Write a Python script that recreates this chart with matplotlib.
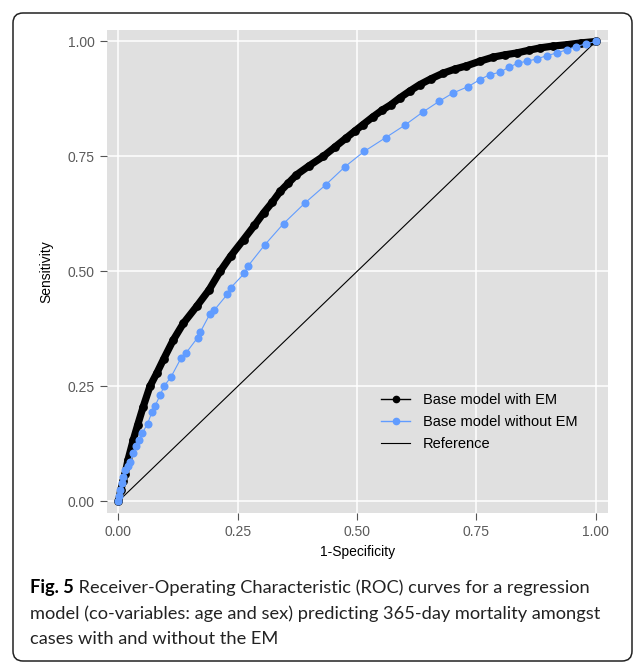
import matplotlib
matplotlib.use("Agg")
import matplotlib.pyplot as plt
from matplotlib.lines import Line2D
from matplotlib.patches import FancyBboxPatch
from matplotlib.transforms import IdentityTransform

# ---- data ----
with_em_x = [0, 0.005, 0.010, 0.014, 0.020, 0.031, 0.040, 0.052, 0.066, 0.080, 0.095,
             0.115, 0.136, 0.164, 0.190, 0.213, 0.235, 0.262, 0.285, 0.304, 0.322,
             0.339, 0.356, 0.373, 0.400, 0.429, 0.453, 0.477, 0.495, 0.512, 0.533,
             0.553, 0.570, 0.589, 0.610, 0.631, 0.655, 0.680, 0.705, 0.729, 0.757,
             0.785, 0.810, 0.834, 0.860, 0.883, 0.910, 0.939, 0.970, 1.0]
with_em_y = [0, 0.025, 0.045, 0.060, 0.090, 0.133, 0.165, 0.206, 0.250, 0.278, 0.310,
             0.351, 0.387, 0.424, 0.460, 0.500, 0.533, 0.569, 0.600, 0.627, 0.650,
             0.674, 0.692, 0.710, 0.730, 0.750, 0.770, 0.790, 0.805, 0.819, 0.836,
             0.851, 0.862, 0.877, 0.892, 0.906, 0.919, 0.931, 0.940, 0.947, 0.957,
             0.966, 0.971, 0.975, 0.981, 0.986, 0.990, 0.993, 0.997, 1.0]

without_em_x = [0, 0.002, 0.004, 0.007, 0.010, 0.014, 0.019, 0.024, 0.031, 0.037, 0.042,
                0.050, 0.061, 0.070, 0.077, 0.087, 0.096, 0.110, 0.131, 0.142, 0.166,
                0.171, 0.192, 0.201, 0.228, 0.235, 0.264, 0.271, 0.306, 0.346, 0.391,
                0.434, 0.475, 0.515, 0.560, 0.600, 0.637, 0.672, 0.701, 0.733, 0.757,
                0.778, 0.799, 0.818, 0.837, 0.855, 0.876, 0.897, 0.918, 0.939, 0.959,
                0.980, 1.0]
without_em_y = [0, 0.012, 0.025, 0.039, 0.052, 0.068, 0.077, 0.086, 0.104, 0.120, 0.133,
                0.148, 0.169, 0.193, 0.208, 0.230, 0.251, 0.270, 0.311, 0.323, 0.356,
                0.367, 0.408, 0.416, 0.450, 0.464, 0.496, 0.511, 0.557, 0.604, 0.649,
                0.688, 0.728, 0.761, 0.791, 0.818, 0.846, 0.870, 0.888, 0.902, 0.917,
                0.928, 0.933, 0.944, 0.953, 0.957, 0.962, 0.969, 0.975, 0.982, 0.989,
                0.995, 1.0]

reference_x = [0, 1]
reference_y = [0, 1]

tick_values = [0.00, 0.25, 0.50, 0.75, 1.00]
tick_labels = ["0.00", "0.25", "0.50", "0.75", "1.00"]
series_labels = ["Base model with EM", "Base model without EM", "Reference"]
x_title = "1-Specificity"
y_title = "Sensitivity"
caption_bold = "Fig. 5"
caption_lines = [" Receiver-Operating Characteristic (ROC) curves for a regression",
                 "model (co-variables: age and sex) predicting 365-day mortality amongst",
                 "cases with and without the EM"]

# ---- style ----
BLUE = "#619CFF"
PANEL = "#E0E0E0"
plt.rcParams['font.family'] = ['Liberation Sans', 'DejaVu Sans']

W, H = 634, 662
fig = plt.figure(figsize=(W / 100, H / 100), dpi=100)

ax = fig.add_axes([107 / W, 1 - 512.7 / H, (607.7 - 107) / W, (512.7 - 30) / H])
ax.set_facecolor(PANEL)
for s in ax.spines.values():
    s.set_visible(False)
ax.set_xlim(-0.024, 1.025)
ax.set_ylim(-0.025, 1.025)
ax.set_xticks(tick_values)
ax.set_xticklabels(tick_labels)
ax.set_yticks(tick_values)
ax.set_yticklabels(tick_labels)
ax.grid(True, color="white", lw=1.1)
ax.set_axisbelow(True)
ax.tick_params(axis="both", length=5, width=0.8, color="#555555",
               labelcolor="#5a5a5a", labelsize=10, pad=4)
ax.set_xlabel(x_title, fontsize=10, color="black", labelpad=4)
ax.set_ylabel(y_title, fontsize=10, color="black", labelpad=10)

ax.plot(reference_x, reference_y, color="black", lw=0.8, zorder=2)
ax.plot(with_em_x, with_em_y, color="black", lw=5.2, solid_joinstyle="round",
        solid_capstyle="round", zorder=3)
ax.plot(with_em_x, with_em_y, color="black", lw=0, marker="o", ms=5.3, zorder=3)
ax.plot(without_em_x, without_em_y, color=BLUE, lw=0.8, marker="o", ms=5.8,
        markeredgewidth=0, zorder=4)

handles = [
    Line2D([], [], color="black", lw=1.0, marker="o", ms=4.5),
    Line2D([], [], color=BLUE, lw=1.0, marker="o", ms=4.5),
    Line2D([], [], color="black", lw=0.8),
]
leg = ax.legend(handles, series_labels, loc="upper left",
                bbox_to_anchor=(381 / W, 1 - 393 / H), bbox_transform=fig.transFigure,
                frameon=False, fontsize=10.5, handlelength=2.0, handletextpad=0.85,
                labelspacing=0.55, borderpad=0, borderaxespad=0)

# ---- frame ----
border = FancyBboxPatch((13, 1), 632 - 13, 649 - 1,
                        boxstyle="round,pad=0,rounding_size=10",
                        transform=IdentityTransform(), fill=False,
                        ec="#222222", lw=1.1)
fig.patches.append(border)

# ---- caption ----
cap_font = ['Lato', 'DejaVu Sans']
x0 = 30
target_w = 589 - x0
cap_size = 13.8
fig.canvas.draw()
r = fig.canvas.get_renderer()
probe_b = fig.text(0, 0, caption_bold, fontsize=cap_size, fontweight="bold", family=cap_font)
probe_r = fig.text(0, 0, caption_lines[0], fontsize=cap_size, family=cap_font)
w0 = probe_b.get_window_extent(r).width + probe_r.get_window_extent(r).width
probe_b.remove()
probe_r.remove()
cap_size = cap_size * target_w / w0

base0, step = 593.5, 25.5
t = fig.text(x0 / W, 1 - base0 / H, caption_bold, fontsize=cap_size, fontweight="bold",
             family=cap_font, ha="left", va="baseline")
bw = t.get_window_extent(r).width
fig.text((x0 + bw) / W, 1 - base0 / H, caption_lines[0], fontsize=cap_size,
         family=cap_font, ha="left", va="baseline", color="#222222")
for i, line in enumerate(caption_lines[1:], start=1):
    fig.text(x0 / W, 1 - (base0 + step * i) / H, line, fontsize=cap_size,
             family=cap_font, ha="left", va="baseline", color="#222222")

fig.savefig("out.png", dpi=100)
